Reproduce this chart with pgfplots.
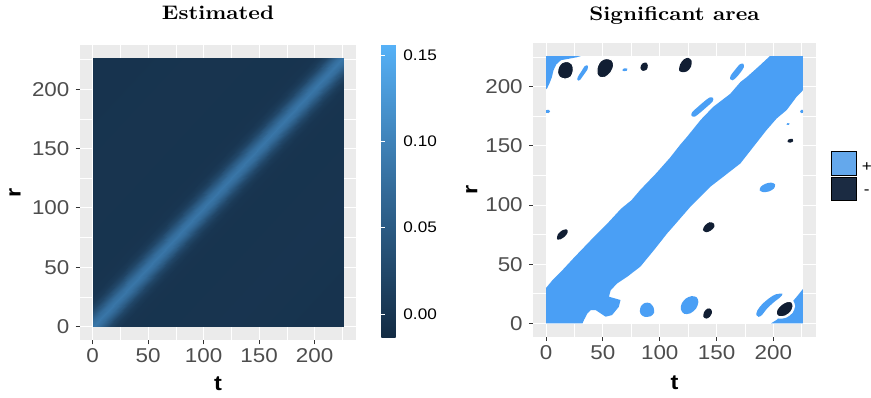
\documentclass[border=0pt]{standalone}
\usepackage{fontspec}
\usepackage{pgfplots}
\usepgfplotslibrary{patchplots}
\pgfplotsset{compat=1.18}

\newfontfamily\sansfnt{Liberation Sans}[FakeStretch=1.12]
\newfontfamily\titlefnt{lmroman10-bold}[Extension=.otf, FakeStretch=1.12]

\definecolor{panelgrey}{HTML}{EBEBEB}
\definecolor{tickgrey}{HTML}{333333}
\definecolor{labgrey}{HTML}{4D4D4D}
\definecolor{sigpos}{HTML}{4A9FF5}
\definecolor{sigposkey}{HTML}{64A8EC}
\definecolor{signeg}{HTML}{111E33}
\definecolor{signegkey}{HTML}{1B2B42}

\pgfplotsset{
  ggpanel/.style={
    scale only axis,
    xmin=-11.3, xmax=237.3, ymin=-11.3, ymax=237.3,
    axis background/.style={fill=panelgrey},
    axis line style={draw=none},
    grid=both,
    major grid style={white, line width=1.1bp},
    minor grid style={white, line width=0.55bp},
    xtick={0,50,100,150,200}, ytick={0,50,100,150,200},
    xticklabels={0,50,100,150,200}, yticklabels={0,50,100,150,200},
    minor xtick={25,75,125,175,225}, minor ytick={25,75,125,175,225},
    minor tick style={draw=none},
    tick align=outside,
    major tick length=4.4bp,
    major tick style={tickgrey, line width=1bp},
    xtick pos=left, ytick pos=left,
    ticklabel style={font=\sansfnt\fontsize{20bp}{24bp}\selectfont, text=labgrey},
    xticklabel style={anchor=north, inner sep=0pt, yshift=-4bp},
    yticklabel style={anchor=east, inner sep=0pt, xshift=-6bp},
    label style={font=\sansfnt\bfseries\fontsize{21bp}{25bp}\selectfont, text=black},
    title style={font=\titlefnt\fontsize{19.6bp}{24bp}\selectfont, anchor=base},
  },
}

\begin{document}
\begin{tikzpicture}
\useasboundingbox (0,0) rectangle (871bp,398bp);

% ---------------- estimated surface ----------------
\begin{axis}[ggpanel,
  at={(80bp,58bp)}, anchor=south west,
  width=276bp, height=295bp,
  title={Estimated},
  title style={at={(axis description cs:0.5,1)}, yshift=19.6bp},
  xlabel={t}, ylabel={r},
  xlabel style={at={(axis description cs:0.5,-0.1719)}, anchor=base},
  ylabel style={at={(axis description cs:-0.2149,0.5)}, anchor=base, rotate=0},
  colormap={gg}{rgb255(0cm)=(19,43,67); rgb255(1cm)=(51,106,152); rgb255(2cm)=(86,177,247)},
  point meta min=-0.0139, point meta max=0.1558,
  colorbar,
  colorbar style={
    scale only axis,
    at={(parent axis.right of north east)}, anchor=north west,
    xshift=16.3bp,
    width=19.4bp, height=293bp,
    axis line style={draw=none},
    ytick={0,0.05,0.1,0.15},
    yticklabels={0.00,0.05,0.10,0.15},
    ytick pos=both, yticklabel pos=right,
    tick align=inside,
    major tick length=3.9bp,
    major tick style={white, line width=0.9bp},
    yticklabel style={font=\sansfnt\fontsize{15.3bp}{18bp}\selectfont, text=black, anchor=west, inner sep=0pt, xshift=2.5bp},
  },
]
% values along the diagonal band, one quad per strip of constant t-r
\addplot[patch, patch type=rectangle, shader=interp, point meta=explicit]
table[meta=v] {
x y v
0 0 0.085
5 0 0.0738
226 221 0.0738
226 226 0.085
5 0 0.0738
10 0 0.0480
226 216 0.0480
226 221 0.0738
10 0 0.0480
15 0 0.0231
226 211 0.0231
226 216 0.0480
15 0 0.0231
20 0 0.0075
226 206 0.0075
226 211 0.0231
20 0 0.0075
26 0 0.0001
226 200 0.0001
226 206 0.0075
26 0 0.0001
35 0 -0.0019
226 191 -0.0019
226 200 0.0001
35 0 -0.0019
60 0 -0.0022
226 166 -0.0022
226 191 -0.0019
60 0 -0.0022
120 0 -0.0012
226 106 -0.0012
226 166 -0.0022
120 0 -0.0012
226 0 -0.0035
226 0 -0.0035
226 106 -0.0012
0 0 0.085
0 5 0.0738
221 226 0.0738
226 226 0.085
0 5 0.0738
0 10 0.0480
216 226 0.0480
221 226 0.0738
0 10 0.0480
0 15 0.0231
211 226 0.0231
216 226 0.0480
0 15 0.0231
0 20 0.0075
206 226 0.0075
211 226 0.0231
0 20 0.0075
0 26 0.0001
200 226 0.0001
206 226 0.0075
0 26 0.0001
0 35 -0.0019
191 226 -0.0019
200 226 0.0001
0 35 -0.0019
0 60 -0.0022
166 226 -0.0022
191 226 -0.0019
0 60 -0.0022
0 120 -0.0015
106 226 -0.0015
166 226 -0.0022
0 120 -0.0015
0 226 -0.0035
0 226 -0.0035
106 226 -0.0015
};
\end{axis}

% ---------------- significance map ----------------
\begin{axis}[ggpanel,
  at={(533.3bp,61.3bp)}, anchor=south west,
  width=282.4bp, height=294bp,
  title={Significant area},
  title style={at={(axis description cs:0.5,1)}, yshift=16.6bp},
  xlabel={t}, ylabel={r},
  xlabel style={at={(axis description cs:0.5,-0.179)}, anchor=base},
  ylabel style={at={(axis description cs:-0.1983,0.5)}, anchor=base, rotate=0},
  legend style={at={(axis description cs:1,0.5)}, anchor=west,
    xshift=15.3bp, yshift=13.8bp, draw=none, fill=none, inner sep=0pt,
    row sep=1.6bp, column sep=5.5bp,
    font=\sansfnt\fontsize{15.3bp}{18bp}\selectfont,
    nodes={inner sep=0pt}},
  legend image code/.code={\fill[#1] (0bp,-7bp) rectangle (24.7bp,16.5bp);},
]
% non-significant background
\addplot[forget plot, fill=white, draw=none] coordinates {(0,0) (226,0) (226,226) (0,226)} -- cycle;
% positive region along the diagonal
\addplot[forget plot, fill=sigpos, draw=none] coordinates {
(0,0) (0,30) (6,37) (13,43.6) (25,56) (39,70) (54,84.5) (66,97) (75,104) (83,113)
(97,127) (109,140) (118,151) (124,157.7) (136,172) (147,183) (162,194) (171,204)
(177,208.5) (188,218) (197,226) (226,226) (226,197) (220.5,191.6) (211.7,180.3)
(203,173.3) (194,163.4) (182.5,149.3) (171,135.2) (156,124) (144.5,115.5)
(127,98.6) (112,82) (106.5,76) (95,62) (83,48) (71.4,39.4) (62.6,33.8) (56.8,28)
(55.3,22.5) (65.5,19.7) (64,14) (58,7) (52.4,5.6) (48,8.4) (43.6,11.2) (39.2,11.2)
(36.3,8.4) (33.3,2.8) (32,0)} -- cycle;
% positive corner patches
\addplot[forget plot, fill=sigpos, draw=none] coordinates {
(0,198) (0,226) (30.5,226) (27,225) (21.5,224) (13,222.5) (9,219) (6.5,214) (5,208) (3,203) (1,199)} -- cycle;
\addplot[forget plot, fill=sigpos, draw=none] coordinates {
(198,0) (226,0) (226,29) (221,23) (214,15) (208,8) (203,3)} -- cycle;
% small positive spots
\addplot[forget plot, fill=sigpos, draw=none, smooth cycle] coordinates {
(27.5,206) (28,208.5) (31,213) (34,217.5) (36.5,218) (36.5,215) (33,210) (30,206) (28.5,205.2)};
\addplot[forget plot, fill=sigpos, draw=none, smooth cycle] coordinates {
(67,214) (68.5,215.5) (71.5,215.3) (71,213.6) (68.5,213.2)};
\addplot[forget plot, fill=sigpos, draw=none, smooth cycle] coordinates {
(162,206.5) (162.5,209.5) (166,214) (170.5,219) (173.5,219.5) (174,216.5) (171,212) (167,207.5) (164,205.5)};
\addplot[forget plot, fill=sigpos, draw=none, smooth cycle] coordinates {
(128,175.5) (128.5,178.5) (133,182.5) (139,187.5) (144,191) (147,190.5) (146.5,187.5) (142,183.5) (136,178.5) (131,174.8)};
\addplot[forget plot, fill=sigpos, draw=none, smooth cycle] coordinates {
(0,178) (0,180.2) (2.5,180.5) (3.5,179) (2,177.8)};
\addplot[forget plot, fill=sigpos, draw=none, smooth cycle] coordinates {
(223.5,179) (224.5,180.5) (226,180.5) (226,178) (224.5,177.8)};
\addplot[forget plot, fill=sigpos, draw=none, smooth cycle] coordinates {
(211.5,168.2) (212.5,169.3) (214.3,169) (213.7,167.8)};
\addplot[forget plot, fill=sigpos, draw=none, smooth cycle] coordinates {
(188,112.5) (189,115.5) (193,118) (198,119) (201.5,117.5) (200.5,114) (196,111.5) (191,111)};
\addplot[forget plot, fill=sigpos, draw=none, smooth cycle] coordinates {
(82.5,10) (83.5,14.5) (87,17.3) (91.5,17) (94.5,13.5) (95,9) (92,6) (87,5.5) (84,7)};
\addplot[forget plot, fill=sigpos, draw=none, smooth cycle] coordinates {
(118.5,12) (119.5,17) (123,21) (128,23) (132.5,22) (134,18) (132,12.5) (127,8.5) (121.5,8)};
\addplot[forget plot, fill=sigpos, draw=none, smooth cycle] coordinates {
(185,7) (186,11) (190,16) (196,21) (202,24.5) (208,25) (206,22) (200,17.5) (194,12) (190,7) (187,5.5)};
% negative spots
\addplot[forget plot, fill=signeg, draw=white, line width=1.2bp, smooth cycle] coordinates {
(10,212) (11,217) (14,220.5) (19,221.5) (23,219) (24,214) (22,208.5) (17,206.5) (12,208)};
\addplot[forget plot, fill=signeg, draw=white, line width=1.2bp, smooth cycle] coordinates {
(45,210) (45,217) (48,222) (53,224) (58,222.5) (59.5,218) (57,212) (52,208) (47,208)};
\addplot[forget plot, fill=signeg, draw=none, smooth cycle] coordinates {
(83,216) (84.5,219.5) (88,220.5) (89.5,218) (88.5,214.5) (85,213.5)};
\addplot[forget plot, fill=signeg, draw=none, smooth cycle] coordinates {
(117,214) (118,219) (121,223) (125,224.5) (128,222) (127.5,217) (124,213) (119.5,212.5)};
\addplot[forget plot, fill=signeg, draw=none, smooth cycle] coordinates {
(9.5,72) (10.5,75.5) (14,78.5) (18,79.5) (19,77) (16.5,73.5) (12.5,71) (10,70.8)};
\addplot[forget plot, fill=signeg, draw=none, smooth cycle] coordinates {
(138,79) (140,83) (144,85.5) (147.5,84.5) (148,81.5) (145,78.5) (141,77)};
\addplot[forget plot, fill=signeg, draw=none, smooth cycle] coordinates {
(138.5,5.5) (139,9.5) (142,12.5) (145,12) (146,9) (144,5.5) (141,4)};
\addplot[forget plot, fill=signeg, draw=white, line width=2.4bp, smooth cycle] coordinates {
(202,8) (203,12.5) (207,16.5) (212,19) (216.5,18.5) (218,14.5) (216,9.5) (211,5.8) (205,5)};
\addplot[forget plot, fill=signeg, draw=none, smooth cycle] coordinates {
(212.5,153.5) (213.5,155.5) (217,156) (217.5,154) (215,152.8)};
% legend keys
\addlegendimage{fill=sigposkey}
\addlegendentry{+}
\addlegendimage{fill=signegkey}
\addlegendentry{-}
\end{axis}
\end{tikzpicture}
\end{document}
